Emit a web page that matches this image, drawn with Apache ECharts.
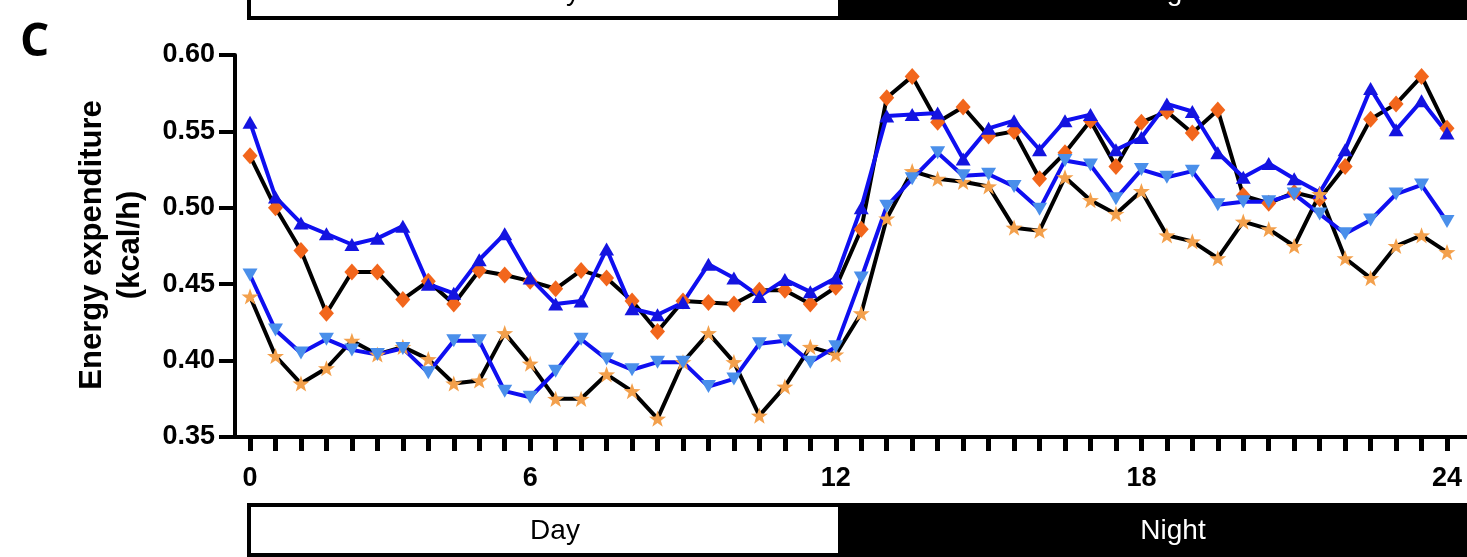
<!DOCTYPE html>
<html><head><meta charset="utf-8">
<script src="https://cdn.jsdelivr.net/npm/echarts@6/dist/echarts.min.js"></script>
<style>html,body{margin:0;padding:0;background:#fff;}#c{width:1467px;height:557px;}</style>
</head><body><div id="c"></div>
<script>
// ---- data ----
const xTickSlots = [0, 11, 23, 35, 47];
const xTickLabels = ['0', '6', '12', '18', '24'];
const yMin = 0.35, yMax = 0.60, yStep = 0.05;

const diamondValues = [0.534,0.500,0.472,0.431,0.458,0.458,0.440,0.452,0.437,0.459,0.456,0.452,
  0.447,0.459,0.454,0.439,0.419,0.439,0.438,0.437,0.446,0.446,0.437,0.448,
  0.486,0.572,0.586,0.556,0.566,0.547,0.550,0.519,0.536,0.557,0.527,0.556,
  0.563,0.549,0.564,0.508,0.503,0.510,0.506,0.527,0.558,0.568,0.586,0.552];
const upTriangleValues = [0.556,0.507,0.490,0.483,0.476,0.480,0.488,0.450,0.444,0.466,0.483,0.454,
  0.437,0.439,0.473,0.434,0.430,0.438,0.463,0.454,0.442,0.453,0.445,0.454,
  0.500,0.560,0.561,0.562,0.532,0.552,0.557,0.538,0.557,0.561,0.538,0.546,
  0.568,0.563,0.536,0.520,0.529,0.519,0.510,0.538,0.578,0.551,0.570,0.549];
const starValues = [0.442,0.403,0.385,0.395,0.413,0.404,0.409,0.401,0.385,0.387,0.418,0.398,
  0.375,0.375,0.391,0.380,0.362,0.399,0.418,0.399,0.364,0.383,0.409,0.404,
  0.431,0.493,0.524,0.519,0.517,0.514,0.487,0.485,0.520,0.505,0.496,0.511,
  0.482,0.478,0.467,0.491,0.486,0.475,0.509,0.467,0.454,0.475,0.482,0.471];
const downTriangleValues = [0.456,0.420,0.405,0.414,0.407,0.404,0.408,0.392,0.413,0.413,0.380,0.376,
  0.393,0.414,0.401,0.394,0.399,0.399,0.383,0.388,0.411,0.413,0.399,0.409,
  0.454,0.501,0.519,0.536,0.521,0.522,0.514,0.499,0.531,0.528,0.506,0.525,
  0.520,0.524,0.502,0.504,0.504,0.509,0.496,0.483,0.492,0.509,0.515,0.491];

// ---- chart ----
const slots = diamondValues.map((_, i) => i);
const pair = arr => arr.map((v, i) => [i, v]);
const STAR = 'path://M0,-10L2.35,-3.24L9.51,-3.09L3.8,1.24L5.88,8.09L0,4L-5.88,8.09L-3.8,1.24L-9.51,-3.09L-2.35,-3.24Z';
const FONT = '"Liberation Sans", Arial, sans-serif';

const chart = echarts.init(document.getElementById('c'), null, {renderer: 'canvas'});
chart.setOption({
  animation: false,
  backgroundColor: '#fff',
  grid: {left: 235, right: 0, top: 55, bottom: 120, containLabel: false},
  xAxis: {
    type: 'value', min: -0.59, max: 47.785,
    axisLine: {show: true, onZero: false, lineStyle: {color: '#000', width: 4}},
    axisTick: {show: true, customValues: slots, length: 14, lineStyle: {color: '#000', width: 5}},
    axisLabel: {customValues: xTickSlots, margin: 28, color: '#000', fontSize: 27, fontWeight: 'bold', fontFamily: FONT,
      formatter: v => xTickLabels[xTickSlots.indexOf(Math.round(v))]},
    splitLine: {show: false}
  },
  yAxis: {
    type: 'value', min: yMin, max: yMax, interval: yStep,
    axisLine: {show: true, onZero: false, lineStyle: {color: '#000', width: 4}},
    axisTick: {show: true, length: 16, lineStyle: {color: '#000', width: 4}},
    axisLabel: {margin: 20, color: '#000', fontSize: 27, fontWeight: 'bold', fontFamily: FONT,
      formatter: v => v.toFixed(2)},
    splitLine: {show: false}
  },
  series: [
    {type: 'line', data: pair(diamondValues), symbol: 'diamond', symbolSize: [15, 17],
     lineStyle: {color: '#000', width: 4}, itemStyle: {color: '#F2661C'}},
    {type: 'line', data: pair(upTriangleValues), symbol: 'triangle', symbolSize: [15, 13],
     lineStyle: {color: '#0F0FF0', width: 4}, itemStyle: {color: '#1414E0'}},
    {type: 'line', data: pair(starValues), symbol: STAR, symbolSize: 17, symbolKeepAspect: true,
     lineStyle: {color: '#000', width: 4}, itemStyle: {color: '#F3A04C'}},
    {type: 'line', data: pair(downTriangleValues), symbol: 'triangle', symbolRotate: 180, symbolSize: [15, 13],
     lineStyle: {color: '#0F0FF0', width: 4}, itemStyle: {color: '#4A8FEA'}}
  ],
  graphic: [
    {type: 'text', left: 20, top: 20, style: {text: 'C', font: 'bold 46px "Open Sans", sans-serif', fill: '#000'}},
    {type: 'text', x: 92, y: 245, rotation: Math.PI / 2,
     style: {text: 'Energy expenditure', x: 0, y: 0, align: 'center', verticalAlign: 'middle', font: 'bold 31px ' + FONT, fill: '#000'}},
    {type: 'text', x: 130, y: 245, rotation: Math.PI / 2,
     style: {text: '(kcal/h)', x: 0, y: 0, align: 'center', verticalAlign: 'middle', font: 'bold 31px ' + FONT, fill: '#000'}},
    // top Day/Night bar (cropped)
    {type: 'rect', shape: {x: 249, y: -40, width: 591, height: 58}, style: {fill: '#fff', stroke: '#000', lineWidth: 4}},
    {type: 'rect', shape: {x: 840, y: -40, width: 640, height: 60}, style: {fill: '#000'}},
    {type: 'text', x: 555, y: -8, style: {text: 'Day', align: 'center', verticalAlign: 'middle', font: '28px ' + FONT, fill: '#000'}},
    {type: 'text', x: 1173, y: -8, style: {text: 'Night', align: 'center', verticalAlign: 'middle', font: '28px ' + FONT, fill: '#fff'}},
    // bottom Day/Night bar
    {type: 'rect', shape: {x: 249, y: 505, width: 591, height: 50}, style: {fill: '#fff', stroke: '#000', lineWidth: 4}},
    {type: 'rect', shape: {x: 840, y: 503, width: 640, height: 54}, style: {fill: '#000'}},
    {type: 'text', x: 555, y: 531, style: {text: 'Day', align: 'center', verticalAlign: 'middle', font: '28px ' + FONT, fill: '#000'}},
    {type: 'text', x: 1173, y: 531, style: {text: 'Night', align: 'center', verticalAlign: 'middle', font: '28px ' + FONT, fill: '#fff'}}
  ]
});
</script></body></html>
